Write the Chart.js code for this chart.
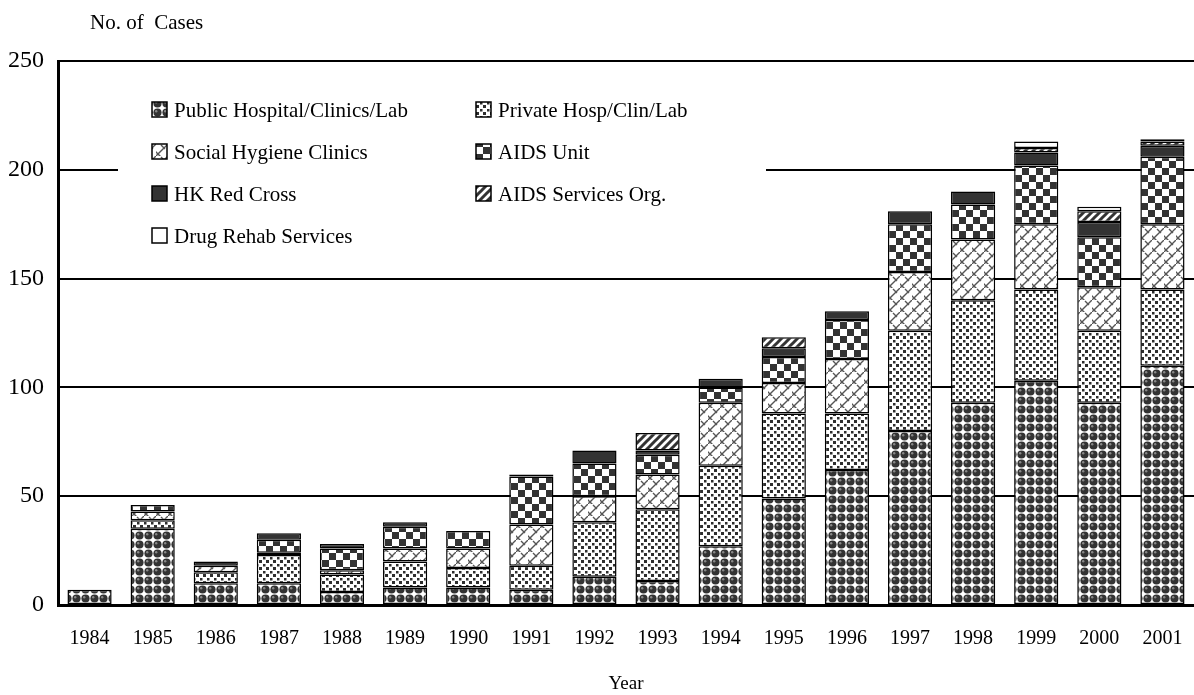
<!DOCTYPE html>
<html>
<head>
<meta charset="utf-8">
<script src="https://cdn.jsdelivr.net/npm/chart.js@4.4.0/dist/chart.umd.min.js"></script>
<style>
  html, body { margin: 0; padding: 0; background: #fff; }
</style>
</head>
<body>
<canvas id="casesChart" width="1194" height="695"></canvas>
<script>
// reported HIV cases by source, stacked bottom -> top
const years = ["1984", "1985", "1986", "1987", "1988", "1989", "1990", "1991", "1992",
               "1993", "1994", "1995", "1996", "1997", "1998", "1999", "2000", "2001"];

const publicHosp   = [7, 35, 10, 10, 6, 8, 8, 7, 13, 11, 27, 49, 62, 80, 93, 103, 93, 110];
const privateHosp  = [0, 4, 5, 13, 8, 12, 9, 11, 25, 33, 37, 39, 26, 46, 47, 42, 33, 35];
const socialHyg    = [0, 4, 3, 1, 2, 6, 9, 19, 12, 16, 29, 14, 25, 27, 28, 30, 20, 30];
const aidsUnit     = [0, 3, 0, 6, 10, 10, 8, 22, 15, 9, 7, 12, 18, 22, 16, 27, 23, 31];
const redCross     = [0, 0, 2, 3, 2, 2, 0, 1, 6, 2, 4, 4, 4, 6, 6, 6, 7, 5];
const aidsServices = [0, 0, 0, 0, 0, 0, 0, 0, 0, 8, 0, 5, 0, 0, 0, 2, 5, 2];
const drugRehab    = [0, 0, 0, 0, 0, 0, 0, 0, 0, 0, 0, 0, 0, 0, 0, 3, 2, 1];

const yTicks = [0, 50, 100, 150, 200, 250];

const FONT = '"Liberation Serif", "Times New Roman", serif';

function makePattern(size, draw) {
    const c = document.createElement("canvas");
    c.width = size;
    c.height = size;
    const g = c.getContext("2d");
    g.fillStyle = "#fff";
    g.fillRect(0, 0, size, size);
    draw(g, size);
    return document.getElementById("casesChart").getContext("2d").createPattern(c, "repeat");
}

// dark balls
const ballFill = makePattern(9, (g) => {
    g.fillStyle = "#333";
    g.beginPath();
    g.arc(4.5, 4.5, 4.1, 0, Math.PI * 2);
    g.fill();
    g.fillStyle = "#888";
    g.beginPath();
    g.arc(3.2, 3.2, 1.2, 0, Math.PI * 2);
    g.fill();
});

// scattered small squares
const dotFill = makePattern(7, (g) => {
    g.fillStyle = "#2e2e2e";
    g.fillRect(0, 0, 3, 3);
    g.fillRect(4, 4, 2.5, 2.5);
});

// diagonal lattice
const latticeFill = makePattern(12, (g) => {
    g.strokeStyle = "#555";
    g.lineWidth = 1.4;
    g.beginPath();
    g.moveTo(-1, 13); g.lineTo(13, -1);
    g.moveTo(-1, 7); g.lineTo(5, 13);
    g.moveTo(5, 1); g.lineTo(9, 5);
    g.stroke();
});

// checkerboard
const checkFill = makePattern(14, (g) => {
    g.fillStyle = "#333";
    g.fillRect(0, 0, 7, 7);
    g.fillRect(7, 7, 7, 7);
});

// thick diagonal stripes
const stripeFill = makePattern(8, (g) => {
    g.strokeStyle = "#333";
    g.lineWidth = 3;
    g.beginPath();
    g.moveTo(-2, 10); g.lineTo(10, -2);
    g.moveTo(-2, 2); g.lineTo(2, -2);
    g.moveTo(6, 10); g.lineTo(10, 6);
    g.stroke();
});

function series(label, data, fill) {
    return {
        label: label,
        data: data,
        backgroundColor: fill,
        borderColor: "#000",
        borderWidth: 1.5,
        borderSkipped: false,
        barPercentage: 0.7,
        categoryPercentage: 1.0
    };
}

const legendBox = {
    id: "legendBox",
    afterDatasetsDraw(chart) {
        const ctx = chart.ctx;
        ctx.save();
        ctx.fillStyle = "#fff";
        ctx.fillRect(118, 84, 648, 176);
        ctx.font = "21px " + FONT;
        ctx.textBaseline = "middle";
        chart.data.datasets.forEach((ds, i) => {
            const x = (i % 2) ? 476 : 152;
            const y = 110 + Math.floor(i / 2) * 42;
            ctx.fillStyle = ds.backgroundColor;
            ctx.fillRect(x, y - 8, 15, 15);
            ctx.lineWidth = 1.5;
            ctx.strokeStyle = "#000";
            ctx.strokeRect(x, y - 8, 15, 15);
            ctx.fillStyle = "#000";
            ctx.fillText(ds.label, x + 22, y + 1);
        });
        ctx.fillText("No. of  Cases", 90, 23);
        ctx.restore();
    }
};

new Chart(document.getElementById("casesChart"), {
    type: "bar",
    data: {
        labels: years,
        datasets: [
            series("Public Hospital/Clinics/Lab", publicHosp, ballFill),
            series("Private Hosp/Clin/Lab", privateHosp, dotFill),
            series("Social Hygiene Clinics", socialHyg, latticeFill),
            series("AIDS Unit", aidsUnit, checkFill),
            series("HK Red Cross", redCross, "#333"),
            series("AIDS Services Org.", aidsServices, stripeFill),
            series("Drug Rehab Services", drugRehab, "#fff")
        ]
    },
    options: {
        responsive: false,
        animation: false,
        devicePixelRatio: 1,
        layout: { padding: { top: 61, left: 0, right: -2, bottom: 0 } },
        plugins: {
            legend: { display: false },
            tooltip: { enabled: false }
        },
        scales: {
            x: {
                stacked: true,
                grid: { display: false },
                border: { display: true, color: "#000", width: 3 },
                ticks: { color: "#000", font: { family: FONT, size: 20 }, padding: 14 },
                title: { display: true, text: "Year", color: "#000",
                         font: { family: FONT, size: 19 }, padding: { top: 0, bottom: 0 } },
                afterFit(scale) {
                    scale.height = 90;
                    scale.paddingLeft = 0;
                    scale.paddingRight = 0;
                }
            },
            y: {
                stacked: true,
                min: 0,
                max: 250,
                afterBuildTicks(scale) { scale.ticks = yTicks.map(v => ({ value: v })); },
                grid: { color: "#000", lineWidth: 2, drawTicks: false },
                border: { display: true, color: "#000", width: 3 },
                ticks: { color: "#000", font: { family: FONT, size: 24 }, padding: 14 },
                afterFit(scale) { scale.width = 58; }
            }
        }
    },
    plugins: [legendBox]
});
</script>
</body>
</html>
